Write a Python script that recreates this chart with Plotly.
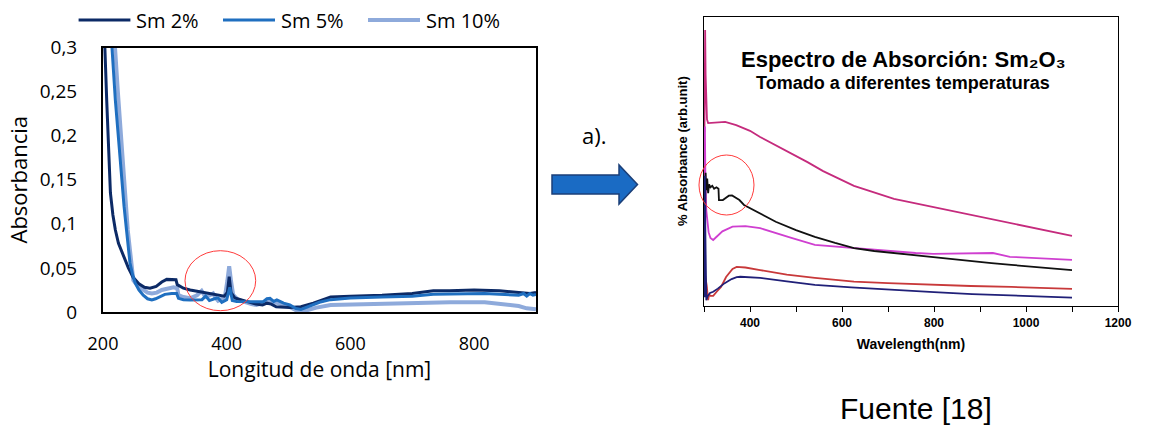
import plotly.graph_objects as go

W, H = 1156, 427

# ---------------- Left chart data (Absorbancia vs Longitud de onda) ----------------
sm_names = ["Sm 2%", "Sm 5%", "Sm 10%"]
sm_colors = ["#0c2a66", "#1f6fc0", "#8eaadb"]
sm_widths = [3, 3, 4]

sm2_nm = [200, 203, 206, 209, 212, 216, 220, 225, 233, 241, 249, 258, 267, 276, 286, 295, 303, 311,
          318, 320, 330, 341, 357, 370, 384, 396, 401, 404, 407, 413, 432, 447, 458, 465, 472, 480,
          502, 520, 540, 568, 600, 651, 700, 734, 760, 800, 841, 870, 890, 900]
sm2_abs = [0.42, 0.30, 0.24, 0.175, 0.135, 0.110, 0.093, 0.078, 0.063, 0.050, 0.039, 0.032, 0.028,
           0.027, 0.029, 0.034, 0.037, 0.037, 0.0365, 0.031, 0.027, 0.025, 0.023, 0.021, 0.019, 0.018,
           0.022, 0.040, 0.022, 0.016, 0.012, 0.009, 0.008, 0.010, 0.009, 0.006, 0.005, 0.006, 0.010,
           0.017, 0.018, 0.019, 0.021, 0.024, 0.024, 0.025, 0.024, 0.022, 0.021, 0.022]

sm5_nm = [200, 210, 214.5, 220, 224, 229, 234, 238, 243.6, 248, 252, 258, 265, 272, 279, 285, 292,
          300, 311, 319, 322, 330, 341, 352, 360, 366, 372, 380, 386, 392, 400, 405, 409, 416, 427,
          440, 452, 459, 465, 470, 476, 481, 492, 502, 512, 520, 535, 550, 568, 600, 651, 700, 734,
          760, 800, 817, 841, 860, 872, 880, 885, 890, 895, 900]
sm5_abs = [0.6, 0.40, 0.30, 0.24, 0.203, 0.16, 0.12, 0.093, 0.0556, 0.042, 0.033, 0.025, 0.019,
           0.015, 0.0136, 0.015, 0.0173, 0.020, 0.021, 0.021, 0.0155, 0.014, 0.0136, 0.014, 0.014,
           0.018, 0.013, 0.015, 0.016, 0.011, 0.014, 0.028, 0.013, 0.012, 0.0117, 0.011, 0.0115,
           0.0117, 0.015, 0.0155, 0.012, 0.0136, 0.010, 0.008, 0.004, 0.003, 0.007, 0.011, 0.014,
           0.016, 0.017, 0.018, 0.020, 0.0205, 0.021, 0.021, 0.020, 0.019, 0.019, 0.021, 0.018,
           0.021, 0.019, 0.020]

sm10_nm = [200, 215, 219.4, 224, 229, 234, 240, 246, 249, 257, 265, 272, 279, 287, 295, 305, 314,
           320, 322, 330, 340.5, 352, 359.5, 364, 367.5, 373, 378, 382, 386, 392, 397, 401, 404,
           407, 410.5, 418, 427, 440, 448, 459, 465, 470, 476, 481, 492, 502, 512, 519, 530, 545,
           568, 600, 651, 680, 734, 761, 817, 841, 860, 872, 885, 898, 900]
sm10_abs = [0.7, 0.40, 0.30, 0.25, 0.203, 0.15, 0.093, 0.055, 0.036, 0.029, 0.025, 0.022, 0.021,
            0.022, 0.025, 0.027, 0.028, 0.027, 0.019, 0.017, 0.0155, 0.019, 0.024, 0.019, 0.0173,
            0.019, 0.021, 0.016, 0.0128, 0.015, 0.0173, 0.035, 0.052, 0.035, 0.0193, 0.014, 0.0117,
            0.009, 0.008, 0.0099, 0.011, 0.0128, 0.011, 0.0105, 0.008, 0.0057, 0.002, 0.001, 0.002,
            0.005, 0.008, 0.0085, 0.009, 0.0099, 0.011, 0.0110, 0.0110, 0.0095, 0.008, 0.0068,
            0.0042, 0.0023, 0.003]

left_xticks = [200, 400, 600, 800]
left_yticks = [0, 0.05, 0.1, 0.15, 0.2, 0.25, 0.3]
left_ytext = ["0", "0,05", "0,1", "0,15", "0,2", "0,25", "0,3"]

# ---------------- Right chart data (Sm2O3 spectra, arbitrary units) ----------------
pink_nm = [301, 302.5, 303.5, 305, 306.5, 309, 320, 346, 370, 400, 422, 455, 490, 525, 559, 626,
           713, 798, 856, 928, 1002, 1050, 1100]
pink_abs = [0.60, 0.953, 0.80, 0.70, 0.645, 0.632, 0.633, 0.636, 0.625, 0.605, 0.584, 0.556, 0.528,
            0.497, 0.466, 0.415, 0.370, 0.342, 0.321, 0.297, 0.273, 0.258, 0.242]

black_nm = [301, 302, 303.5, 305, 307, 309, 311, 314, 318, 322, 327, 331.5, 332.5, 341, 348, 354,
            361, 367, 377, 387, 420, 456, 500, 541, 585, 626, 670, 712, 755, 798, 840, 883, 925,
            968, 1030, 1100]
black_abs = [0.08, 0.35, 0.46, 0.40, 0.44, 0.39, 0.42, 0.41, 0.415, 0.405, 0.41, 0.405, 0.366,
             0.366, 0.375, 0.381, 0.382, 0.377, 0.366, 0.349, 0.32, 0.291, 0.262, 0.239, 0.218,
             0.200, 0.190, 0.183, 0.176, 0.169, 0.161, 0.153, 0.148, 0.142, 0.133, 0.124]

magenta_nm = [301, 302, 303, 305, 307, 310, 314, 320, 328, 340, 362, 390, 422, 455, 490, 541, 593,
              650, 712, 760, 798, 856, 928, 965, 1030, 1100]
magenta_abs = [0.10, 0.62, 0.45, 0.33, 0.29, 0.255, 0.235, 0.228, 0.24, 0.258, 0.274, 0.276, 0.269,
               0.252, 0.235, 0.211, 0.204, 0.197, 0.188, 0.183, 0.180, 0.181, 0.183, 0.170, 0.165,
               0.159]

red_nm = [301, 303, 306, 309, 311, 314, 320, 328, 337, 348, 362, 371, 390, 422, 480, 541, 626, 700,
          798, 880, 968, 1100]
red_abs = [0.12, 0.10, 0.07, 0.02, 0.04, 0.035, 0.035, 0.05, 0.066, 0.10, 0.128, 0.135, 0.133,
           0.124, 0.108, 0.097, 0.084, 0.079, 0.073, 0.069, 0.066, 0.059]

navy_nm = [301, 302, 303, 305, 308, 313, 320, 330, 345, 360, 371, 379, 400, 422, 480, 541, 620,
           712, 800, 883, 1000, 1100]
navy_abs = [0.03, 0.45, 0.25, 0.02, 0.035, 0.045, 0.049, 0.06, 0.079, 0.093, 0.100, 0.101, 0.099,
            0.097, 0.085, 0.073, 0.064, 0.055, 0.048, 0.041, 0.035, 0.029]

right_xticks = [400, 600, 800, 1000, 1200]
right_xtext = ["400", "600", "800", "1000", "1200"]


def px(x):
    return x / W


def py(y):
    return 1 - y / H


fig = go.Figure()

left_series = [
    (sm_names[2], sm10_nm, sm10_abs, sm_colors[2], sm_widths[2]),
    (sm_names[0], sm2_nm, sm2_abs, sm_colors[0], sm_widths[0]),
    (sm_names[1], sm5_nm, sm5_abs, sm_colors[1], sm_widths[1]),
]
for name, xs, ys, col, w in left_series:
    fig.add_trace(go.Scatter(x=xs, y=ys, mode="lines", name=name,
                             line=dict(color=col, width=w), xaxis="x", yaxis="y"))

right_series = [
    ("pink", pink_nm, pink_abs, "#c52b7d"),
    ("magenta", magenta_nm, magenta_abs, "#cf3fd0"),
    ("black", black_nm, black_abs, "#111111"),
    ("red", red_nm, red_abs, "#c8393a"),
    ("navy", navy_nm, navy_abs, "#202078"),
]
for name, xs, ys, col in right_series:
    fig.add_trace(go.Scatter(x=xs, y=ys, mode="lines", name=name,
                             line=dict(color=col, width=1.8), xaxis="x2", yaxis="y2"))

LFONT = "Open Sans"
RFONT = "Liberation Sans, Arial"

fig.update_layout(
    width=W, height=H, margin=dict(l=0, r=0, t=0, b=0),
    paper_bgcolor="white", plot_bgcolor="white", showlegend=False,
    template="none",
    font=dict(family=LFONT, color="black"),
    xaxis=dict(domain=[px(103), px(536)], range=[200, 900], tickvals=left_xticks,
               ticktext=[str(v) for v in left_xticks], showline=True, linecolor="black",
               linewidth=2, mirror=True, ticks="", showgrid=False, zeroline=False,
               tickfont=dict(family=LFONT, size=18, color="black"), ticklabelstandoff=14,
               title=dict(text="Longitud de onda [nm]", standoff=0,
                          font=dict(family=LFONT, size=21, color="black")),
               anchor="y", automargin=False),
    yaxis=dict(domain=[py(312), py(47.5)], range=[0, 0.3], tickvals=left_yticks,
               ticktext=left_ytext, showline=True, linecolor="black", linewidth=2, mirror=True,
               ticks="", showgrid=False, zeroline=False,
               tickfont=dict(family=LFONT, size=19, color="black"), ticklabelstandoff=20,
               title=dict(text="Absorbancia", standoff=6,
                          font=dict(family=LFONT, size=22, color="black")),
               anchor="x", automargin=False),
    xaxis2=dict(domain=[px(704), px(1118)], range=[300, 1200], tickvals=right_xticks,
                ticktext=right_xtext, showline=True, linecolor="black", linewidth=1.3,
                mirror=True, ticks="outside", ticklen=5, tickwidth=1.3, tickcolor="black",
                minor=dict(ticks="outside", ticklen=5, tickwidth=1.3, tickcolor="black",
                           tick0=300, dtick=100, showgrid=False),
                showgrid=False, zeroline=False,
                tickfont=dict(family=RFONT, size=12, color="black", weight="bold"),
                title=dict(text="<b>Wavelength(nm)</b>", standoff=10,
                           font=dict(family=RFONT, size=14, color="black")),
                anchor="y2", automargin=False),
    yaxis2=dict(domain=[py(306), py(16.5)], range=[0, 1], showticklabels=False, ticks="",
                showline=True, linecolor="black", linewidth=1.3, mirror=True, showgrid=False,
                zeroline=False, anchor="x2", automargin=False),
)

annotations = [
    dict(text="<b>% Absorbance (arb.unit)</b>", x=px(683), y=py(151), textangle=-90,
         font=dict(family=RFONT, size=13)),
    dict(text="a).", x=px(594), y=py(135), font=dict(family=LFONT, size=22)),
    dict(text="<b>Espectro de Absorción: Sm₂O₃</b>", x=px(903), y=py(60),
         font=dict(family=RFONT, size=22)),
    dict(text="<b>Tomado a diferentes temperaturas</b>", x=px(903), y=py(83),
         font=dict(family=RFONT, size=18)),
    dict(text="Fuente [18]", x=px(916), y=py(408), font=dict(family=RFONT, size=30)),
]

# manual legend
legend_line_x = [(78.6, 130.4), (223, 275), (368, 420)]
legend_text_x = [134, 278.6, 424]
shapes = []
for i, name in enumerate(sm_names):
    x0, x1 = legend_line_x[i]
    shapes.append(dict(type="line", xref="paper", yref="paper", x0=px(x0), x1=px(x1),
                       y0=py(20), y1=py(20), line=dict(color=sm_colors[i], width=sm_widths[i])))
    annotations.append(dict(text=name, x=px(legend_text_x[i]), y=py(20), xanchor="left",
                            font=dict(family=LFONT, size=20)))

for a in annotations:
    a.setdefault("xref", "paper")
    a.setdefault("yref", "paper")
    a.setdefault("showarrow", False)
    a.setdefault("xanchor", "center")
    a.setdefault("yanchor", "middle")
    a["font"].setdefault("color", "black")

# red highlight circles
shapes.append(dict(type="circle", xref="paper", yref="paper", x0=px(185), x1=px(255.7),
                   y0=py(310.7), y1=py(250.7), line=dict(color="#ff3b3b", width=1)))
shapes.append(dict(type="circle", xref="paper", yref="paper", x0=px(699), x1=px(754),
                   y0=py(215), y1=py(155), line=dict(color="#ff3b3b", width=1)))

# block arrow
arrow_pts = [(552, 175), (619, 175), (619, 165), (637.5, 184.5), (619, 204), (619, 194), (552, 194)]
path = "M " + " L ".join(f"{px(x):.5f},{py(y):.5f}" for x, y in arrow_pts) + " Z"
shapes.append(dict(type="path", xref="paper", yref="paper", path=path,
                   fillcolor="#1a6bc4", line=dict(color="#1b3f78", width=1.5)))

fig.update_layout(annotations=annotations, shapes=shapes)

fig.write_html("out.html")
